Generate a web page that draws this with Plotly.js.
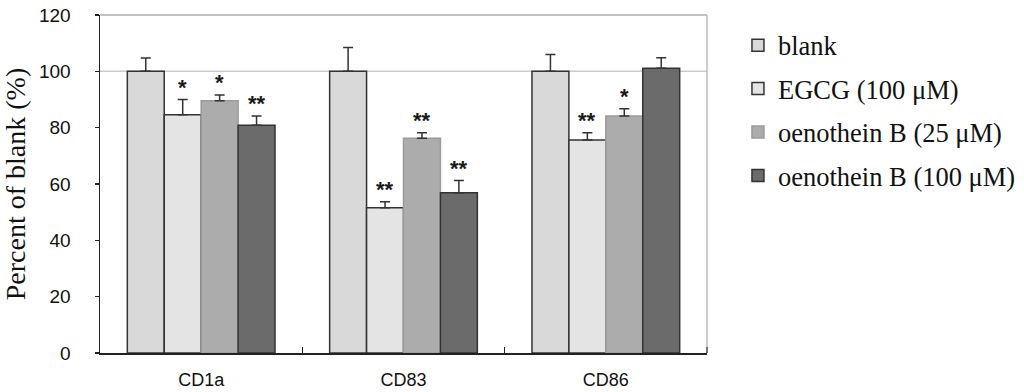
<!DOCTYPE html>
<html>
<head>
<meta charset="utf-8">
<script src="https://cdn.plot.ly/plotly-3.0.1.min.js"></script>
<style>html,body{margin:0;padding:0;background:#fff;}#chart{width:1024px;height:392px;}</style>
</head>
<body>
<div id="chart"></div>
<script>
// ---- data ----
const categories = ["CD1a", "CD83", "CD86"];
const seriesNames = ["blank", "EGCG (100 \u03bcM)", "oenothein B (25 \u03bcM)", "oenothein B (100 \u03bcM)"];
const blankVals = [100, 100, 100];
const egcgVals = [84.6, 51.6, 75.6];
const oenoB25Vals = [89.6, 76.2, 84.1];
const oenoB100Vals = [80.9, 56.9, 101.1];
const blankErr = [4.7, 8.5, 6.0];
const egcgErr = [5.4, 2.1, 2.6];
const oenoB25Err = [2.0, 2.0, 2.6];
const oenoB100Err = [3.2, 4.3, 3.7];
const blankSig = ["", "", ""];
const egcgSig = ["*", "**", "**"];
const oenoB25Sig = ["*", "**", "*"];
const oenoB100Sig = ["**", "**", ""];
const yTicks = [0, 20, 40, 60, 80, 100, 120];

// ---- styles ----
const values = [blankVals, egcgVals, oenoB25Vals, oenoB100Vals];
const errs = [blankErr, egcgErr, oenoB25Err, oenoB100Err];
const sigs = [blankSig, egcgSig, oenoB25Sig, oenoB100Sig];
const fills = ["#d9d9d9", "#e4e4e4", "#acacac", "#6b6b6b"];
const lines = ["#333333", "#333333", "#9a9a9a", "#333333"];
const xIdx = categories.map((c, i) => i);
const bargap = 0.27;
const nSeries = seriesNames.length;
const barW = (1 - bargap) / nSeries;

const traces = seriesNames.map((name, s) => ({
  type: "bar",
  name: name,
  x: xIdx,
  y: values[s],
  legendgroup: "g" + s,
  marker: {color: fills[s], line: {color: lines[s], width: 1.5}},
  error_y: {type: "data", array: errs[s], arrayminus: errs[s].map(() => 0), symmetric: false,
            color: "#333333", thickness: 1.5, width: 5},
  hoverinfo: "skip"
}));

const annotations = [];
sigs.forEach((sArr, s) => {
  sArr.forEach((txt, i) => {
    if (!txt) return;
    annotations.push({
      x: i + (s - (nSeries - 1) / 2) * barW,
      y: values[s][i] + errs[s][i],
      xref: "x", yref: "y",
      text: "<b>" + txt + "</b>", showarrow: false,
      yanchor: "bottom", yshift: -2,
      font: {family: "Liberation Sans, Arial, sans-serif", size: 22, color: "#1a1a1a"}
    });
  });
});

const layout = {
  width: 1024, height: 392,
  margin: {l: 100, r: 317, t: 15, b: 39, autoexpand: false},
  paper_bgcolor: "#ffffff", plot_bgcolor: "#ffffff",
  barmode: "group", bargap: bargap, bargroupgap: 0,
  showlegend: true,
  legend: {
    x: 1.051, y: 0.981, xanchor: "left", yanchor: "top",
    font: {family: "Liberation Serif, Times New Roman, serif", size: 26.5, color: "#111111"},
    tracegroupgap: 6, traceorder: "grouped", bgcolor: "rgba(0,0,0,0)"
  },
  xaxis: {
    type: "linear", range: [-0.5, categories.length - 0.5],
    tickvals: xIdx, ticktext: categories, ticks: "",
    minor: {tickvals: xIdx.map(v => v + 0.5), ticks: "inside", ticklen: 6, tickwidth: 1.5, tickcolor: "#222222", showgrid: false},
    showgrid: false, zeroline: false,
    showline: true, linecolor: "#222222", linewidth: 1.5,
    ticklabelstandoff: 10,
    tickfont: {family: "Liberation Sans, Arial, sans-serif", size: 18, color: "#111111"}
  },
  yaxis: {
    range: [0, 120], tickvals: yTicks, ticks: "outside", ticklen: 4, tickwidth: 1.2, tickcolor: "#222222",
    showgrid: false, zeroline: false,
    showline: true, linecolor: "#222222", linewidth: 1.5,
    ticklabelstandoff: 20,
    tickfont: {family: "Liberation Sans, Arial, sans-serif", size: 19, color: "#111111"},
    title: {text: "Percent of blank (%)", standoff: 6,
            font: {family: "Liberation Serif, Times New Roman, serif", size: 28, color: "#111111"}}
  },
  shapes: [
    {type: "line", xref: "paper", yref: "y", x0: 0, x1: 1, y0: 100, y1: 100,
     line: {color: "#cccccc", width: 1.5}, layer: "below"},
    {type: "line", xref: "paper", yref: "paper", x0: 0, x1: 1, y0: 1, y1: 1,
     line: {color: "#888888", width: 1.2}},
    {type: "line", xref: "paper", yref: "paper", x0: 1, x1: 1, y0: 0, y1: 1,
     line: {color: "#aaaaaa", width: 1.2}}
  ],
  annotations: annotations
};

Plotly.newPlot("chart", traces, layout, {displayModeBar: false, staticPlot: true});
</script>
</body>
</html>
